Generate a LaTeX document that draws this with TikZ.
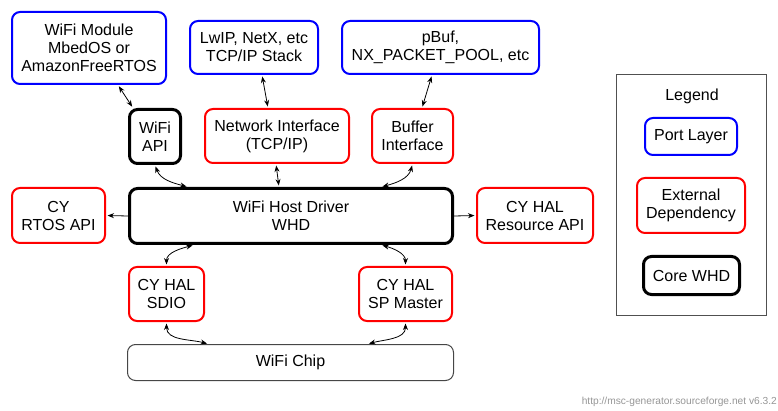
\documentclass[tikz,border=0pt]{standalone}
\usepackage{fontspec}
\setmainfont{Liberation Sans}
\usetikzlibrary{arrows.meta}
\tikzset{
  box/.style={draw, rounded corners=8pt, align=center, inner sep=0pt, font=\fontsize{16}{18}\selectfont, line width=2pt},
  portbox/.style={box, draw={rgb,255:red,0;green,0;blue,255}},
  extbox/.style={box, draw={rgb,255:red,255;green,0;blue,0}},
  corebox/.style={box, draw=black, line width=3pt},
  chipbox/.style={box, draw={rgb,255:red,70;green,70;blue,70}, line width=1pt},
  dbl/.style={{Stealth[length=6.5pt,width=5pt]}-{Stealth[length=6.5pt,width=5pt]}, line width=0.8pt, shorten <=1.5pt, shorten >=1.5pt},
  sgl/.style={-{Stealth[length=6.5pt,width=5pt]}, line width=0.8pt, shorten >=1.5pt},
}
\begin{document}
\begin{tikzpicture}[x=1pt,y=-1pt]
\useasboundingbox (0,0) rectangle (778,411);
% port layer
\node[portbox, minimum width=154pt, minimum height=72pt] (wm) at (89,48) {WiFi Module\\MbedOS or\\AmazonFreeRTOS};
\node[portbox, minimum width=128pt, minimum height=53pt] (lwip) at (254,47.5) {LwIP, NetX, etc\\TCP/IP Stack};
\node[portbox, minimum width=197pt, minimum height=53pt] (pbuf) at (440.5,47.5) {pBuf,\\NX\_PACKET\_POOL, etc};
% middle row
\node[corebox, minimum width=51pt, minimum height=54pt] (wapi) at (155,136.5) {WiFi\\API};
\node[extbox, minimum width=144pt, minimum height=54pt] (netif) at (277,136) {Network Interface\\(TCP/IP)};
\node[extbox, minimum width=81pt, minimum height=54pt] (bufif) at (412.5,136) {Buffer\\Interface};
% WHD row
\node[extbox, minimum width=93pt, minimum height=55pt] (rtos) at (58.5,215.5) {CY\\RTOS API};
\node[corebox, minimum width=323pt, minimum height=55pt] (whd) at (291,216) {WiFi Host Driver\\WHD};
\node[extbox, minimum width=116pt, minimum height=55pt] (res) at (535,215.5) {CY HAL\\Resource API};
% HAL row
\node[extbox, minimum width=75pt, minimum height=54pt] (sdio) at (166.5,294) {CY HAL\\SDIO};
\node[extbox, minimum width=93pt, minimum height=54pt] (spm) at (405.5,294) {CY HAL\\SP Master};
% chip
\node[chipbox, minimum width=326pt, minimum height=36pt] (chip) at (290.5,362.5) {WiFi Chip};
% legend
\node[draw={rgb,255:red,80;green,80;blue,80}, line width=1.2pt, minimum width=150pt, minimum height=241pt, inner sep=0pt] (legend) at (691.5,195) {};
\node[font=\fontsize{16}{18}\selectfont, inner sep=0pt] (legtitle) at (692,96.5) {Legend};
\node[portbox, minimum width=92pt, minimum height=37pt] (lport) at (691,136.5) {Port Layer};
\node[extbox, minimum width=108pt, minimum height=55pt] (lext) at (691,205.5) {External\\Dependency};
\node[corebox, minimum width=96pt, minimum height=38pt] (lcore) at (691.5,275.5) {Core WHD};
% footer
\node[anchor=east, inner sep=0pt, text={rgb,255:red,150;green,150;blue,150}, font=\fontsize{10.2}{12}\selectfont] (footer) at (777,402) {http://msc-generator.sourceforge.net v6.3.2};
% connectors
\draw[dbl] ([xshift=29pt]wm.south) -- ([xshift=-22pt]wapi.north);
\draw[dbl] ([xshift=8pt]lwip.south) -- ([xshift=-9pt]netif.north);
\draw[dbl] ([xshift=-8.5pt]pbuf.south) -- ([xshift=9.5pt]bufif.north);
\draw[dbl] (wapi.south) to[out=-70,in=165] ([xshift=-103pt]whd.north);
\draw[dbl] ([xshift=-1pt]netif.south) -- ([xshift=-12pt]whd.north);
\draw[dbl] (bufif.south) to[out=-105,in=15] ([xshift=90pt]whd.north);
\draw[sgl] (whd.west) -- (rtos.east);
\draw[sgl] (whd.east) -- (res.west);
\draw[dbl] ([xshift=-97pt]whd.south) to[out=195,in=90] (sdio.north);
\draw[dbl] ([xshift=90pt]whd.south) to[out=-15,in=90] (spm.north);
\draw[dbl] (sdio.south) to[out=-90,in=165] ([xshift=-82pt]chip.north);
\draw[dbl] (spm.south) to[out=-90,in=15] ([xshift=77pt]chip.north);
\end{tikzpicture}
\end{document}
